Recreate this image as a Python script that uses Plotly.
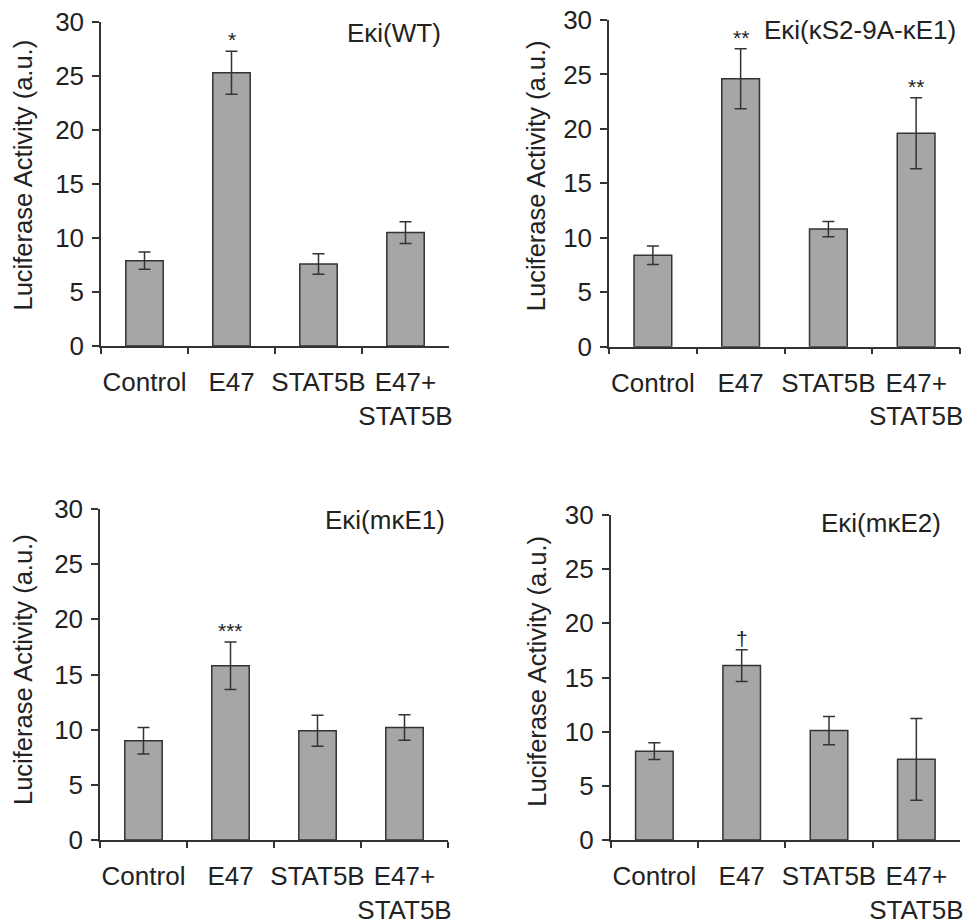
import plotly.graph_objects as go

categories = ["Control", "E47", "STAT5B", "E47+<br>STAT5B"]

wt_mean = [7.9, 25.3, 7.6, 10.5]
wt_err = [0.8, 2.0, 0.95, 1.0]
wt_sig = ["", "*", "", ""]

ks_mean = [8.4, 24.6, 10.8, 19.6]
ks_err = [0.85, 2.75, 0.7, 3.25]
ks_sig = ["", "**", "", "**"]

me1_mean = [9.0, 15.8, 9.9, 10.2]
me1_err = [1.2, 2.15, 1.4, 1.15]
me1_sig = ["", "***", "", ""]

me2_mean = [8.2, 16.1, 10.1, 7.45]
me2_err = [0.77, 1.46, 1.3, 3.77]
me2_sig = ["", "†", "", ""]

panel_titles = ["Eκi(WT)", "Eκi(κS2-9A-κE1)", "Eκi(mκE1)", "Eκi(mκE2)"]
y_title = "Luciferase Activity (a.u.)"

W, H = 978, 921
FONT = "Liberation Sans, Arial, sans-serif"
TXT = "#222222"
LINE = "#333333"
BAR = "#a6a6a6"
FS = 26

panels = [
    (wt_mean, wt_err, wt_sig),
    (ks_mean, ks_err, ks_sig),
    (me1_mean, me1_err, me1_sig),
    (me2_mean, me2_err, me2_sig),
]

# pixel geometry: (x_left, x_right, y_top, y_bottom)
geom = [
    (101, 449, 22, 346),
    (609, 960, 20, 346.7),
    (100, 448, 509, 840),
    (610.7, 960, 515, 840),
]
title_pos = [(443, 33), (958, 30), (447, 520), (943, 523)]
ytitle_pos = [(23, 175.5), (536.7, 175.5), (23, 670), (536.7, 671)]

fig = go.Figure()
annotations = []
layout = {}
for i, ((m, e, s), (xl, xr, yt, yb)) in enumerate(zip(panels, geom)):
    sfx = "" if i == 0 else str(i + 1)
    xa = "x" + sfx
    ya = "y" + sfx
    fig.add_trace(go.Bar(
        x=categories, y=m, xaxis=xa, yaxis=ya,
        marker=dict(color=BAR, line=dict(color=LINE, width=1.5)),
        error_y=dict(type="data", array=e, visible=True, color=LINE,
                     thickness=1.5, width=6),
        showlegend=False,
    ))
    layout["xaxis" + sfx] = dict(
        domain=[xl / W, xr / W], anchor=ya, type="category",
        range=[-0.5, 3.5], showline=True, linecolor=LINE, linewidth=1.5,
        ticks="outside", tickson="boundaries", ticklen=6, tickcolor=LINE,
        tickwidth=1.5, showgrid=False, zeroline=False, tickangle=0,
        tickfont=dict(family=FONT, size=FS, color=TXT),
        ticklabelstandoff=12, fixedrange=True, automargin=False,
    )
    layout["yaxis" + sfx] = dict(
        domain=[(H - yb) / H, (H - yt) / H], anchor=xa,
        range=[0, 30], dtick=5, showline=True, linecolor=LINE, linewidth=1.5,
        ticks="outside", ticklen=7, tickcolor=LINE, tickwidth=1.5,
        showgrid=False, zeroline=False,
        tickfont=dict(family=FONT, size=FS, color=TXT),
        ticklabelstandoff=3, fixedrange=True, automargin=False,
    )
    for j, lab in enumerate(s):
        if lab:
            annotations.append(dict(
                x=categories[j], y=m[j] + e[j], xref=xa, yref=ya,
                text=lab, showarrow=False, yanchor="bottom", yshift=-2,
                font=dict(family=FONT, size=21, color=TXT),
            ))
    tx, ty = title_pos[i]
    annotations.append(dict(
        x=tx / W, y=(H - ty) / H, xref="paper", yref="paper",
        text=panel_titles[i], showarrow=False, xanchor="right",
        yanchor="middle", font=dict(family=FONT, size=FS, color=TXT),
    ))
    yx, yy = ytitle_pos[i]
    annotations.append(dict(
        x=yx / W, y=(H - yy) / H, xref="paper", yref="paper",
        text=y_title, showarrow=False, textangle=-90, xanchor="center",
        yanchor="middle", font=dict(family=FONT, size=25.5, color=TXT),
    ))

fig.update_layout(
    template="none",
    width=W, height=H, margin=dict(l=0, r=0, t=0, b=0, pad=0),
    paper_bgcolor="white", plot_bgcolor="white",
    bargap=0.57, annotations=annotations, **layout,
)
fig.write_html(
    "out.html",
    config={"displayModeBar": False},
    post_script="document.body.style.margin='0px';document.body.style.overflow='hidden';",
)
